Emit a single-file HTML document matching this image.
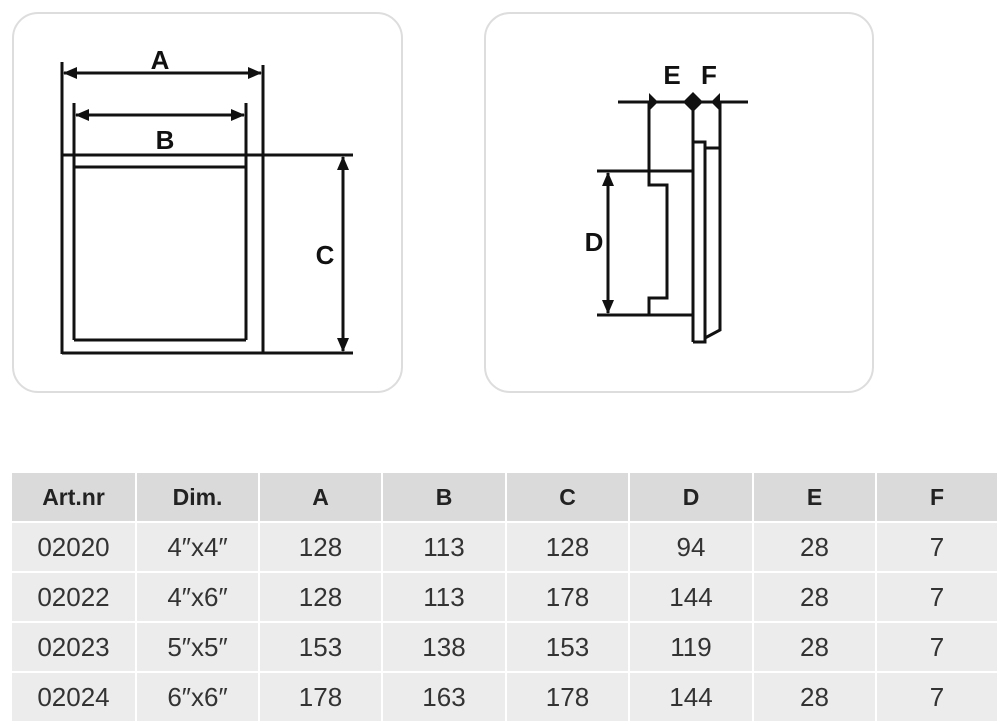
<!DOCTYPE html>
<html><head><meta charset="utf-8"><style>
body{margin:0;width:1000px;height:724px;background:#fff;overflow:hidden;position:relative;font-family:"Liberation Sans",sans-serif}
.panel{position:absolute;top:12px;border:2px solid #ddd;border-radius:26px;box-sizing:border-box}
.cell{position:absolute;display:flex;align-items:center;justify-content:center;font-size:26px;color:#333}
.h{background:#dadada;font-weight:bold;font-size:23px;color:#222}
.r{background:#ececec}
</style></head><body>
<div class="panel" style="left:12px;width:391px;height:381px"></div>
<div class="panel" style="left:484px;width:390px;height:381px"></div>
<svg width="1000" height="470" style="position:absolute;left:0;top:0" stroke="#111" fill="none" stroke-width="3">
<defs><marker id="ar" markerWidth="14" markerHeight="12" refX="13" refY="6" orient="auto-start-reverse" markerUnits="userSpaceOnUse"><path d="M0,0L14,6L0,12z" fill="#111" stroke="none"/></marker></defs>
<line x1="62" y1="62" x2="62" y2="354"/>
<line x1="263" y1="65" x2="263" y2="354"/>
<line x1="74" y1="103" x2="74" y2="340"/>
<line x1="246" y1="103" x2="246" y2="340"/>
<line x1="74" y1="167" x2="246" y2="167"/>
<line x1="74" y1="340" x2="246" y2="340"/>
<line x1="62" y1="155" x2="353" y2="155"/>
<line x1="62" y1="353" x2="353" y2="353"/>
<line x1="64" y1="73" x2="261" y2="73" marker-start="url(#ar)" marker-end="url(#ar)"/>
<line x1="76" y1="115" x2="244" y2="115" marker-start="url(#ar)" marker-end="url(#ar)"/>
<line x1="343" y1="157" x2="343" y2="351" marker-start="url(#ar)" marker-end="url(#ar)"/>
<g fill="#111" stroke="none" font-family="Liberation Sans" font-weight="bold" font-size="26" text-anchor="middle">
<text x="160" y="69">A</text><text x="165" y="149">B</text><text x="325" y="264">C</text>
<text x="672" y="84">E</text><text x="709" y="84">F</text><text x="594" y="251">D</text></g>
<line x1="618" y1="102" x2="748" y2="102"/>
<polyline points="649,102 649,185 667,185 667,298 649,298 649,315"/>
<line x1="597" y1="171" x2="692" y2="171"/>
<line x1="597" y1="315" x2="692" y2="315"/>
<line x1="608" y1="173" x2="608" y2="313" marker-start="url(#ar)" marker-end="url(#ar)"/>
<line x1="693" y1="102" x2="693" y2="342"/>
<polyline points="693,142 705,142 705,342 693,342"/>
<polyline points="705,148 720,148"/>
<polyline points="720,102 720,330 705,338"/>
<path d="M649,93 L658,102 L649,111z M693,92 L703,102 L693,112 L683,102z M720,93 L711,102 L720,111z" fill="#111" stroke="none"/>
</svg>
<div class="cell h" style="left:12px;top:473px;width:123px;height:48px">Art.nr</div>
<div class="cell h" style="left:137px;top:473px;width:121px;height:48px">Dim.</div>
<div class="cell h" style="left:260px;top:473px;width:121px;height:48px">A</div>
<div class="cell h" style="left:383px;top:473px;width:122px;height:48px">B</div>
<div class="cell h" style="left:507px;top:473px;width:121px;height:48px">C</div>
<div class="cell h" style="left:630px;top:473px;width:122px;height:48px">D</div>
<div class="cell h" style="left:754px;top:473px;width:121px;height:48px">E</div>
<div class="cell h" style="left:877px;top:473px;width:120px;height:48px">F</div>
<div id="rows"></div>
<script>
var d=[["02020","4″x4″","128","113","128","94","28","7"],["02022","4″x6″","128","113","178","144","28","7"],["02023","5″x5″","153","138","153","119","28","7"],["02024","6″x6″","178","163","178","144","28","7"]];
var xs=[12,137,260,383,507,630,754,877],ws=[123,121,121,122,121,122,121,120],h="";
d.forEach(function(r,i){r.forEach(function(t,j){h+='<div class="cell r" style="left:'+xs[j]+'px;top:'+(523+i*50)+'px;width:'+ws[j]+'px;height:48px">'+t+'</div>';});});
document.getElementById("rows").innerHTML=h;
</script>
</body></html>
